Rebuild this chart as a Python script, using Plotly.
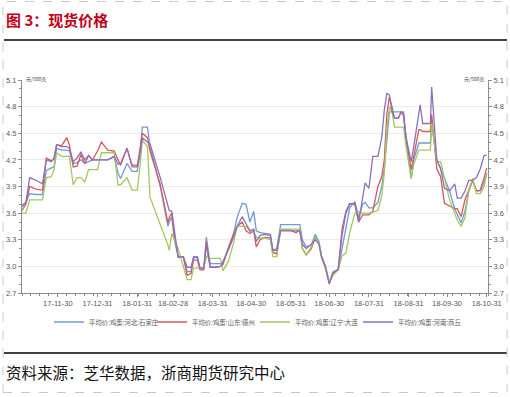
import plotly.graph_objects as go

dates = [
    "2017-11-02", "2017-11-05", "2017-11-08", "2017-11-13", "2017-11-18", "2017-11-21",
    "2017-11-25", "2017-11-27", "2017-11-29", "2017-12-03", "2017-12-07", "2017-12-09",
    "2017-12-12", "2017-12-15", "2017-12-18", "2017-12-21", "2017-12-24", "2017-12-27",
    "2017-12-31", "2018-01-03", "2018-01-08", "2018-01-13", "2018-01-16", "2018-01-18",
    "2018-01-23", "2018-01-27", "2018-01-31", "2018-02-02", "2018-02-04", "2018-02-08",
    "2018-02-10", "2018-02-18", "2018-02-24", "2018-02-25", "2018-02-27", "2018-03-01",
    "2018-03-04", "2018-03-08", "2018-03-11", "2018-03-14", "2018-03-16", "2018-03-19",
    "2018-03-21", "2018-03-24", "2018-03-26", "2018-03-29", "2018-04-02", "2018-04-06",
    "2018-04-08", "2018-04-12", "2018-04-16", "2018-04-19", "2018-04-23", "2018-04-26",
    "2018-04-29", "2018-05-02", "2018-05-04", "2018-05-07", "2018-05-11", "2018-05-15",
    "2018-05-17", "2018-05-20", "2018-05-23", "2018-05-30", "2018-06-04", "2018-06-07",
    "2018-06-09", "2018-06-12", "2018-06-16", "2018-06-19", "2018-06-22", "2018-06-24",
    "2018-06-27", "2018-06-30", "2018-07-03", "2018-07-07", "2018-07-10", "2018-07-13",
    "2018-07-16", "2018-07-20", "2018-07-23", "2018-07-26", "2018-07-28", "2018-07-31",
    "2018-08-03", "2018-08-07", "2018-08-10", "2018-08-12", "2018-08-14", "2018-08-16",
    "2018-08-18", "2018-08-20", "2018-08-23", "2018-08-25", "2018-08-27", "2018-08-29",
    "2018-09-02", "2018-09-04", "2018-09-08", "2018-09-09", "2018-09-11", "2018-09-17",
    "2018-09-18", "2018-09-22", "2018-09-25", "2018-09-28", "2018-10-02", "2018-10-06",
    "2018-10-08", "2018-10-11", "2018-10-14", "2018-10-17", "2018-10-20", "2018-10-23",
    "2018-10-26", "2018-10-29", "2018-10-31",
]

hebei_shijiazhuang = [
    3.69, 3.72, 3.82, 3.81, 3.81, 4.08, 4.11, 4.12, 4.33, 4.31, 4.31, 4.30,
    4.16, 4.17, 4.20, 4.16, 4.18, 4.20, 4.20, 4.20, 4.20, 4.24, 4.05, 3.99,
    4.16, 4.07, 4.07, 4.25, 4.57, 4.57, 4.35, 3.90, 3.45, 3.50, 3.56, 3.30,
    3.11, 3.11, 2.94, 2.94, 3.11, 3.11, 2.98, 2.98, 3.33, 3.03, 3.03, 3.03,
    3.05, 3.20, 3.35, 3.55, 3.71, 3.70, 3.50, 3.62, 3.40, 3.38, 3.37, 3.36,
    3.18, 3.20, 3.47, 3.47, 3.47, 3.47, 3.30, 3.22, 3.24, 3.36, 3.28, 3.11,
    3.00, 2.82, 2.94, 2.96, 3.20, 3.45, 3.66, 3.73, 3.55, 3.70, 3.72, 3.66,
    3.66, 3.72, 3.90, 4.10, 4.40, 4.74, 4.74, 4.74, 4.74, 4.74, 4.74, 4.40,
    3.99, 4.20, 4.39, 4.39, 4.39, 4.39, 4.61, 4.20, 4.10, 4.00, 3.85, 3.65,
    3.58, 3.49, 3.62, 3.85, 3.97, 3.85, 3.85, 3.95, 4.05,
]

shandong_dezhou = [
    3.63, 3.70, 3.90, 3.87, 3.86, 4.22, 4.19, 4.21, 4.37, 4.36, 4.45, 4.37,
    4.12, 4.13, 4.26, 4.16, 4.25, 4.20, 4.30, 4.40, 4.31, 4.30, 4.20, 4.14,
    4.33, 4.12, 4.12, 4.30, 4.50, 4.45, 4.30, 3.92, 3.49, 3.55, 3.60, 3.35,
    3.11, 3.11, 2.90, 2.92, 3.07, 3.07, 2.96, 2.96, 3.28, 2.99, 2.99, 3.00,
    3.02, 3.20, 3.36, 3.45, 3.50, 3.40, 3.37, 3.40, 3.22, 3.30, 3.33, 3.32,
    3.16, 3.14, 3.41, 3.41, 3.38, 3.41, 3.20, 3.13, 3.20, 3.32, 3.25, 3.10,
    2.98, 2.81, 2.92, 2.96, 3.42, 3.62, 3.71, 3.70, 3.50, 3.58, 3.58, 3.58,
    3.62, 3.90, 4.01, 4.20, 4.72, 4.91, 4.80, 4.67, 4.67, 4.74, 4.70, 4.45,
    4.09, 4.24, 4.54, 4.54, 4.52, 4.52, 4.71, 4.10, 4.01, 3.71, 3.68, 3.65,
    3.65, 3.56, 3.75, 3.86, 3.97, 3.85, 3.86, 4.00, 4.11,
]

liaoning_dalian = [
    3.60, 3.60, 3.75, 3.75, 3.75, 4.00, 4.01, 4.09, 4.28, 4.24, 4.24, 4.24,
    3.92, 4.00, 4.00, 3.95, 4.09, 4.09, 4.09, 4.28, 4.28, 4.28, 3.92, 3.92,
    4.00, 3.86, 3.86, 4.10, 4.42, 4.35, 3.78, 3.48, 3.24, 3.18, 3.37, 3.30,
    3.20, 3.00, 2.85, 2.85, 2.98, 2.98, 2.98, 2.98, 3.11, 3.09, 3.09, 3.09,
    2.95, 3.05, 3.25, 3.45, 3.45, 3.45, 3.40, 3.38, 3.33, 3.32, 3.32, 3.30,
    3.11, 3.11, 3.42, 3.42, 3.42, 3.42, 3.20, 3.13, 3.22, 3.33, 3.26, 3.11,
    3.00, 2.82, 2.90, 2.96, 3.12, 3.15, 3.38, 3.60, 3.62, 3.60, 3.60, 3.60,
    3.61, 3.63, 3.79, 4.05, 4.55, 4.80, 4.75, 4.57, 4.57, 4.57, 4.57, 4.35,
    3.99, 4.15, 4.31, 4.31, 4.31, 4.31, 4.61, 4.18, 4.18, 4.00, 3.75, 3.60,
    3.52, 3.45, 3.55, 3.86, 3.99, 3.82, 3.82, 3.90, 4.05,
]

henan_shangqiu = [
    3.67, 3.72, 4.00, 3.97, 3.93, 4.20, 4.18, 4.22, 4.37, 4.35, 4.35, 4.33,
    4.18, 4.22, 4.29, 4.20, 4.25, 4.20, 4.20, 4.20, 4.20, 4.24, 4.15, 4.16,
    4.33, 4.14, 4.14, 4.25, 4.45, 4.40, 4.38, 4.00, 3.66, 3.63, 3.62, 3.40,
    3.10, 3.11, 2.99, 2.99, 3.10, 3.10, 2.98, 2.98, 3.24, 2.99, 2.99, 3.00,
    3.05, 3.18, 3.32, 3.45, 3.56, 3.48, 3.40, 3.42, 3.28, 3.35, 3.36, 3.35,
    3.18, 3.18, 3.40, 3.40, 3.40, 3.40, 3.25, 3.20, 3.25, 3.30, 3.25, 3.11,
    3.00, 2.80, 2.93, 2.97, 3.35, 3.60, 3.70, 3.71, 3.50, 3.79, 3.94, 3.88,
    4.24, 4.24, 4.45, 4.76, 4.95, 4.93, 4.75, 4.67, 4.67, 4.74, 4.72, 4.45,
    4.18, 4.35, 4.75, 4.82, 4.61, 4.61, 5.02, 4.20, 4.10, 3.88, 3.85, 3.93,
    3.77, 3.77, 3.85, 3.97, 3.97, 4.00, 4.10, 4.25, 4.25,
]

series_names = ["平均价:鸡蛋:河北:石家庄", "平均价:鸡蛋:山东:德州",
                "平均价:鸡蛋:辽宁:大连", "平均价:鸡蛋:河南:商丘"]
series_values = [hebei_shijiazhuang, shandong_dezhou, liaoning_dalian, henan_shangqiu]
series_colors = ["#6F9AD8", "#D65A58", "#A3C760", "#8C70BC"]

tick_dates = ["2017-11-30", "2017-12-31", "2018-01-31", "2018-02-28", "2018-03-31",
              "2018-04-30", "2018-05-31", "2018-06-30", "2018-07-31", "2018-08-31",
              "2018-09-30", "2018-10-31"]
tick_labels = ["17-11-30", "17-12-31", "18-01-31", "18-02-28", "18-03-31", "18-04-30",
               "18-05-31", "18-06-30", "18-07-31", "18-08-31", "18-09-30", "18-10-31"]
y_ticks = [2.7, 3.0, 3.3, 3.6, 3.9, 4.2, 4.5, 4.8, 5.1]

for v in series_values:
    assert len(v) == len(dates), (len(v), len(dates))

W, H = 510, 397
L, R, T, B = 22, 488, 80, 293


def px(x):
    return (x - L) / (R - L)


def py(y):
    return (B - y) / (B - T)


fig = go.Figure()
for name, vals, col in zip(series_names, series_values, series_colors):
    fig.add_trace(go.Scatter(x=dates, y=vals, name=name, mode="lines",
                             line=dict(color=col, width=1.3)))
# invisible trace so the right axis is drawn
fig.add_trace(go.Scatter(x=dates, y=hebei_shijiazhuang, yaxis="y2", mode="lines",
                         line=dict(width=0), opacity=0, showlegend=False,
                         hoverinfo="skip"))

axis_col = "#8C8C8C"
tick_font = dict(family="Liberation Sans, Arial, sans-serif", size=7.5, color="#595959")

fig.update_layout(
    width=W, height=H,
    margin=dict(l=L, r=W - R, t=T, b=H - B, autoexpand=False),
    paper_bgcolor="white", plot_bgcolor="white",
    font=dict(family="Noto Sans CJK SC, Liberation Sans, sans-serif"),
    xaxis=dict(
        type="date", range=["2017-11-02", "2018-11-01"], automargin=False,
        tickvals=tick_dates, ticktext=tick_labels,
        showgrid=False, zeroline=False,
        showline=True, linecolor=axis_col, linewidth=1,
        ticks="outside", ticklen=3, tickcolor=axis_col,
        tickfont=tick_font,
        minor=dict(dtick=7 * 86400000, tick0="2017-11-02", ticks="outside",
                   ticklen=2, tickcolor=axis_col, showgrid=False),
    ),
    yaxis=dict(
        range=[2.7, 5.1], tickvals=y_ticks, tickformat=".1f", automargin=False,
        showgrid=True, gridcolor="#ECECEC", gridwidth=1, zeroline=False,
        showline=True, linecolor=axis_col, linewidth=1,
        ticks="outside", ticklen=3, tickcolor=axis_col,
        tickfont=tick_font,
        minor=dict(dtick=0.1, tick0=2.7, ticks="outside", ticklen=2,
                   tickcolor=axis_col, showgrid=False),
    ),
    yaxis2=dict(
        range=[2.7, 5.1], tickvals=y_ticks, tickformat=".1f", automargin=False,
        overlaying="y", side="right",
        showgrid=False, zeroline=False,
        showline=True, linecolor=axis_col, linewidth=1,
        ticks="outside", ticklen=3, tickcolor=axis_col,
        tickfont=tick_font,
        minor=dict(dtick=0.1, tick0=2.7, ticks="outside", ticklen=2,
                   tickcolor=axis_col, showgrid=False),
    ),
    legend=dict(orientation="h", x=0.5, xanchor="center", y=py(322), yanchor="middle",
                font=dict(family="Noto Sans CJK SC, sans-serif", size=6.4, color="#595959"),
                itemwidth=30, entrywidth=58, entrywidthmode="pixels",
                tracegroupgap=0, bgcolor="rgba(0,0,0,0)"),
    showlegend=True,
)

annotations = [
    dict(text="<b>图 3：现货价格</b>", x=px(4), y=py(20), xanchor="left", yanchor="middle",
         font=dict(family="Noto Sans CJK SC, sans-serif", size=15, color="#C0001A")),
    dict(text="资料来源：芝华数据，浙商期货研究中心", x=px(4), y=py(372), xanchor="left",
         yanchor="middle", font=dict(family="Noto Sans CJK SC, sans-serif", size=15.5,
                                     color="#111111")),
    dict(text="元/500克", x=px(24), y=py(79), xanchor="left", yanchor="middle",
         font=dict(family="Noto Sans CJK SC, sans-serif", size=5, color="#444444")),
    dict(text="元/500克", x=px(486), y=py(79), xanchor="right", yanchor="middle",
         font=dict(family="Noto Sans CJK SC, sans-serif", size=5, color="#444444")),
]
for a in annotations:
    a.update(xref="paper", yref="paper", showarrow=False)
fig.update_layout(annotations=annotations)

shapes = [
    dict(type="line", x0=px(4), x1=px(507), y0=py(40), y1=py(40),
         line=dict(color="black", width=1.5)),
    dict(type="line", x0=px(4), x1=px(507), y0=py(353), y1=py(353),
         line=dict(color="black", width=1.5)),
    dict(type="rect", x0=px(3), x1=px(507), y0=py(392.5), y1=py(1.5),
         line=dict(color="#C8C8C8", width=1, dash="dash")),
]
for s in shapes:
    s.update(xref="paper", yref="paper", layer="above")
fig.update_layout(shapes=shapes)

fig.write_html("out.html",
               config={"displayModeBar": False},
               post_script="document.body.style.margin='0px';"
                           "document.body.style.padding='0px';"
                           "document.body.style.overflow='hidden';")
